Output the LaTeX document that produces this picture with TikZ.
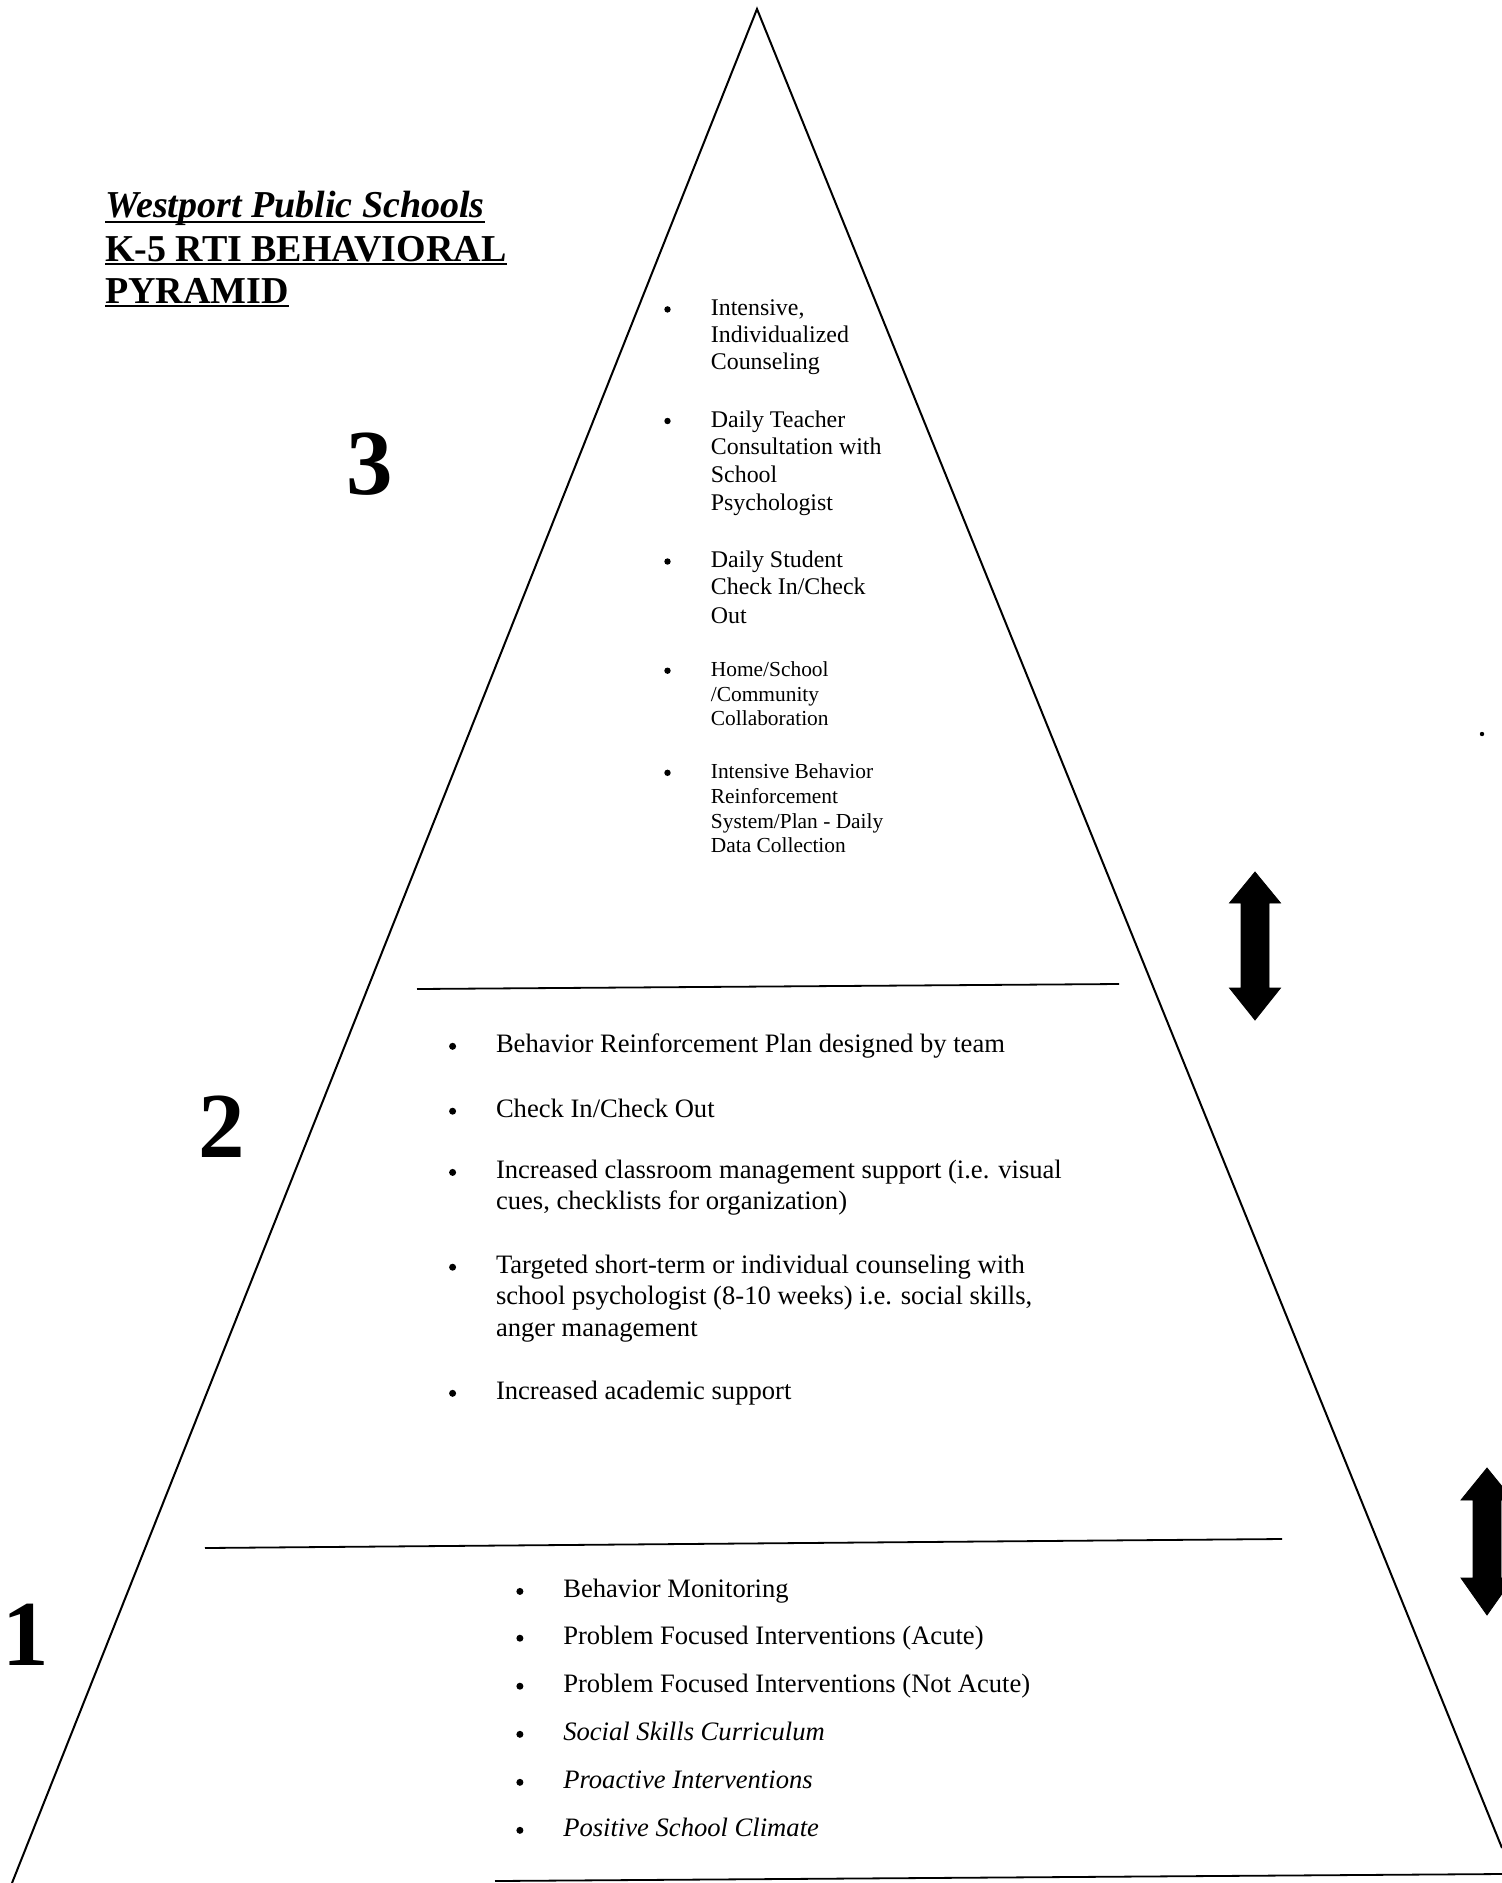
\documentclass[tikz,border=0pt]{standalone}
\usepackage{fontspec}
\setmainfont{Liberation Serif}
\usetikzlibrary{calc}

\begin{document}
\begin{tikzpicture}[x=1pt,y=-1pt,
  edge/.style={line width=2pt, line join=miter},
  tierrule/.style={line width=1.8pt},
  uline/.style={line width=2.4pt},
  dblarrow/.style={fill=black, draw=black, line width=0.8pt},
  dot/.style={fill=black},
  titleline/.style={anchor=base west, inner sep=0pt, font=\bfseries\fontsize{38}{40}\selectfont},
  tiernum/.style={anchor=center, inner sep=0pt, font=\bfseries\fontsize{93}{100}\selectfont},
  tthree/.style={anchor=mid west, inner sep=0pt, yshift=-6pt, font=\fontsize{23.9}{28}\selectfont},
  tthreesm/.style={anchor=mid west, inner sep=0pt, yshift=-5pt, font=\fontsize{21.4}{24.6}\selectfont},
  ttwo/.style={anchor=mid west, inner sep=0pt, yshift=-7pt, font=\fontsize{26.6}{31}\selectfont},
  tone/.style={anchor=mid west, inner sep=0pt, yshift=-7pt, font=\fontsize{26.6}{31}\selectfont},
]
\useasboundingbox (0,0) rectangle (1502,1883);

% ---- pyramid outline and tier dividers ----
\coordinate (apex) at (757,9);
\coordinate (leftfoot) at (12,1883);
\coordinate (rightfoot) at (1502,1848);
\coordinate (base l) at (495,1881);
\coordinate (base r) at (1502,1874);
\coordinate (mid l) at (417,989);
\coordinate (mid r) at (1119,984);
\coordinate (low l) at (205,1548);
\coordinate (low r) at (1282,1539);

\begin{scope}
  \clip (0,0) rectangle (1502,1883);
  \draw[edge] (leftfoot) -- (apex) -- (rightfoot);
  \draw[tierrule] (base l) -- (base r);
  \draw[tierrule] (mid l) -- (mid r);
  \draw[tierrule] (low l) -- (low r);

  % ---- double-headed arrows at the right ----
  \fill[dblarrow] (1255,872) -- (1280.5,903) -- (1269,903) -- (1269,988) -- (1280.5,988)
    -- (1255,1020) -- (1229.5,988) -- (1241,988) -- (1241,903) -- (1229.5,903) -- cycle;
  \fill[dblarrow] (1487,1468) -- (1513,1500) -- (1501,1500) -- (1501,1578) -- (1513,1578)
    -- (1487,1615) -- (1461,1578) -- (1473,1578) -- (1473,1500) -- (1461,1500) -- cycle;
  \fill[dot] (1482,734) circle (2.2);
\end{scope}

% ---- title block ----
\node[titleline, font=\bfseries\itshape\fontsize{38}{40}\selectfont] (title1) at (105,217) {Westport Public Schools};
\node[titleline] (title2) at (105,261) {K-5 RTI BEHAVIORAL};
\node[titleline] (title3) at (105,303) {PYRAMID};
\draw[uline] ($(title1.base west)+(0,5)$) -- ($(title1.base east)+(0,5)$);
\draw[uline] ($(title2.base west)+(0,3)$) -- ($(title2.base east)+(0,3)$);
\draw[uline] ($(title3.base west)+(0,3)$) -- ($(title3.base east)+(0,3)$);

% ---- tier numbers ----
\node[tiernum] (num3) at (370,464) {3};
\node[tiernum] (num2) at (222,1127) {2};
\node[tiernum] (num1) at (26,1635) {1};

% ---- tier 3 ----
\foreach \y in {307.4,419,559.5,668.7,770.8} \fill[dot] (667.5,\y+2) circle (3.2);
\node[tthree] (c1a) at (710.7,307.4) {Intensive,};
\node[tthree] (c1b) at (710.7,333.8) {Individualized};
\node[tthree] (c1c) at (710.7,361.4) {Counseling};
\node[tthree] (c2a) at (710.7,419) {Daily Teacher};
\node[tthree] (c2b) at (710.7,446.6) {Consultation with};
\node[tthree] (c2c) at (710.7,474.2) {School};
\node[tthree] (c2d) at (710.7,501.9) {Psychologist};
\node[tthree] (c3a) at (710.7,559.5) {Daily Student};
\node[tthree] (c3b) at (710.7,585.9) {Check In/Check};
\node[tthree] (c3c) at (710.7,614.7) {Out};
\node[tthreesm] (c4a) at (710.7,668.7) {Home/School};
\node[tthreesm] (c4b) at (710.7,694) {/Community};
\node[tthreesm] (c4c) at (710.7,718) {Collaboration};
\node[tthreesm] (c5a) at (710.7,770.8) {Intensive Behavior};
\node[tthreesm] (c5b) at (710.7,796) {Reinforcement};
\node[tthreesm] (c5c) at (710.7,821.2) {System/Plan - Daily};
\node[tthreesm] (c5d) at (710.7,845.2) {Data Collection};

% ---- tier 2 ----
\foreach \y in {1043.3,1108.2,1169.4,1264.2,1390.3} \fill[dot] (452.6,\y+3) circle (3.5);
\node[ttwo] (b1) at (495.8,1043.3) {Behavior Reinforcement Plan designed by team};
\node[ttwo] (b2) at (495.8,1108.2) {Check In/Check Out};
\node[ttwo] (b3a) at (495.8,1169.4) {Increased classroom management support (i.e. visual};
\node[ttwo] (b3b) at (495.8,1200.6) {cues, checklists for organization)};
\node[ttwo] (b4a) at (495.8,1264.2) {Targeted short-term or individual counseling with};
\node[ttwo] (b4b) at (495.8,1295.4) {school psychologist (8-10 weeks) i.e. social skills,};
\node[ttwo] (b4c) at (495.8,1326.7) {anger management};
\node[ttwo] (b5) at (495.8,1390.3) {Increased academic support};

% ---- tier 1 ----
\foreach \y in {1588.4,1635.2,1683.2,1731.3,1779.3,1827.3} \fill[dot] (519.9,\y+3) circle (3.5);
\node[tone] (a1) at (563.1,1588.4) {Behavior Monitoring};
\node[tone] (a2) at (563.1,1635.2) {Problem Focused Interventions (Acute)};
\node[tone] (a3) at (563.1,1683.2) {Problem Focused Interventions (Not Acute)};
\node[tone, font=\itshape\fontsize{26.6}{31}\selectfont] (a4) at (563.1,1731.3) {Social Skills Curriculum};
\node[tone, font=\itshape\fontsize{26.6}{31}\selectfont] (a5) at (563.1,1779.3) {Proactive Interventions};
\node[tone, font=\itshape\fontsize{26.6}{31}\selectfont] (a6) at (563.1,1827.3) {Positive School Climate};
\end{tikzpicture}
\end{document}
